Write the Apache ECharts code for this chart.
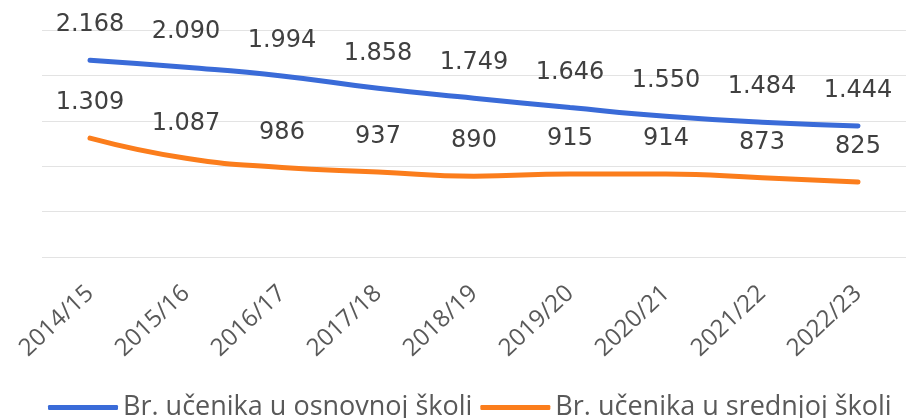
<!DOCTYPE html>
<html>
<head>
    <meta charset="utf-8">
    <title>Broj učenika</title>
    <script src="https://cdn.jsdelivr.net/npm/echarts@6/dist/echarts.min.js"></script>
    <style>
        html, body { margin: 0; padding: 0; background: #fff; }
    </style>
</head>
<body>
    <div id="main" style="width: 906px;height:418px;"></div>
    <script type="text/javascript">
        // školske godine
        var godine = ['2014/15', '2015/16', '2016/17', '2017/18', '2018/19', '2019/20', '2020/21', '2021/22', '2022/23'];
        // broj učenika
        var osnovna = [2168, 2090, 1994, 1858, 1749, 1646, 1550, 1484, 1444];
        var srednja = [1309, 1087, 986, 937, 890, 915, 914, 873, 825];
        var nazivi = ['Br. učenika u osnovnoj školi', 'Br. učenika u srednjoj školi'];

        var myChart = echarts.init(document.getElementById('main'));

        // 2168 -> "2.168"
        function tocka(v) {
            return String(v).replace(/\B(?=(\d{3})+(?!\d))/g, '.');
        }

        var oznaka = {
            show: true,
            position: 'top',
            distance: 23,
            fontSize: 24,
            fontFamily: 'DejaVu Sans',
            color: '#404040',
            formatter: function (p) { return tocka(p.value); }
        };

        var option = {
            animation: false,
            grid: { left: 42, right: -6, top: 30, bottom: 161 },
            legend: {
                left: 43,
                top: 389,
                itemWidth: 70,
                itemHeight: 5,
                itemGap: 8,
                icon: 'roundRect',
                textStyle: { fontSize: 27, color: '#595959', fontFamily: 'Open Sans' },
                data: nazivi
            },
            xAxis: {
                type: 'category',
                data: godine,
                axisLine: { show: false },
                axisTick: { show: false },
                axisLabel: {
                    rotate: 43,
                    margin: 33,
                    fontSize: 24,
                    fontFamily: 'Open Sans',
                    color: '#595959'
                }
            },
            yAxis: {
                type: 'value',
                min: 0,
                max: 2500,
                interval: 500,
                axisLabel: { show: false },
                axisLine: { show: false },
                axisTick: { show: false },
                splitLine: { lineStyle: { color: '#e3e3e3', width: 1 } }
            },
            series: [
                {
                    name: nazivi[0],
                    type: 'line',
                    smooth: true,
                    symbol: 'circle',
                    symbolSize: 0,
                    showSymbol: true,
                    data: osnovna,
                    itemStyle: { color: '#3a6bd8' },
                    lineStyle: { width: 5, color: '#3a6bd8', cap: 'round' },
                    label: oznaka
                },
                {
                    name: nazivi[1],
                    type: 'line',
                    smooth: true,
                    symbol: 'circle',
                    symbolSize: 0,
                    showSymbol: true,
                    data: srednja,
                    itemStyle: { color: '#fb7d1c' },
                    lineStyle: { width: 5, color: '#fb7d1c', cap: 'round' },
                    label: oznaka
                }
            ]
        };

        myChart.setOption(option);
    </script>
</body>
</html>
